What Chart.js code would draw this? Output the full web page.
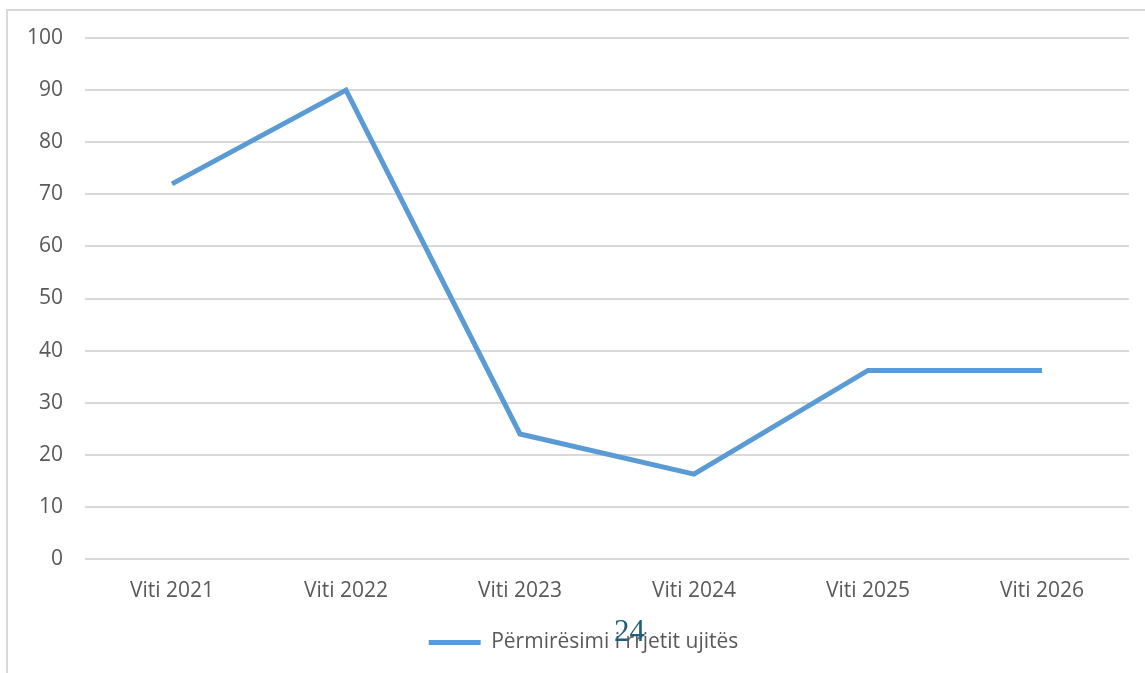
<!DOCTYPE html>
<html><head><meta charset="utf-8">
<script src="https://cdn.jsdelivr.net/npm/chart.js@4.4.1/dist/chart.umd.min.js"></script>
<style>
html,body{margin:0;padding:0;background:#fff;}
#wrap{position:relative;width:1145px;height:673px;overflow:hidden;}
#frame{position:absolute;left:6px;top:9px;width:2000px;height:2000px;border-top:2px solid #d9d9d9;border-left:2px solid #d9d9d9;}
#c{position:absolute;left:0;top:0;}
#pg{position:absolute;left:614px;top:615px;font-family:"Liberation Serif",serif;font-size:31px;color:#215E79;line-height:1;}
</style></head>
<body><div id="wrap"><div id="frame"></div><canvas id="c" width="1145" height="673"></canvas><div id="pg">24</div></div>
<script>
const categories = ["Viti 2021","Viti 2022","Viti 2023","Viti 2024","Viti 2025","Viti 2026"];
const seriesName = "Përmirësimi i rrjetit ujitës";
const seriesValues = [72, 90, 24, 16.3, 36.2, 36.2];
const yTicks = [0,10,20,30,40,50,60,70,80,90,100];
const FONT = "'Open Sans', sans-serif";
const shiftLegend = { id: 'shiftLegend', afterLayout(chart) {
  if (chart.legend) { chart.legend.left += 19; chart.legend.right += 19; }
}};
new Chart(document.getElementById('c'), {
  type: 'line',
  data: { labels: categories, datasets: [{
    label: seriesName, data: seriesValues,
    borderColor: '#5B9BD5', backgroundColor: '#5B9BD5', borderWidth: 5,
    pointRadius: 0, tension: 0, borderCapStyle: 'butt', borderJoinStyle: 'miter'
  }]},
  plugins: [shiftLegend],
  options: {
    responsive: false, animation: false, devicePixelRatio: 1,
    layout: { padding: { left: 0, right: 16, top: 38, bottom: 10 } },
    plugins: {
      tooltip: { enabled: false },
      legend: { position: 'bottom', labels: {
        usePointStyle: true, pointStyle: 'line', pointStyleWidth: 52, boxHeight: 5,
        color: '#595959', font: { family: FONT, size: 21 }, padding: 10
      }}
    },
    scales: {
      x: { offset: true, grid: { display: false }, border: { display: false },
        ticks: { color: '#595959', font: { family: FONT, size: 21 }, padding: 11 },
        afterFit: s => { s.height = 63; } },
      y: { min: 0, max: 100, afterBuildTicks: s => { s.ticks = yTicks.map(v => ({value: v})); },
        grid: { color: '#d9d9d9', lineWidth: 2, drawTicks: false }, border: { display: false },
        ticks: { color: '#595959', font: { family: FONT, size: 21 }, padding: 22 },
        afterFit: s => { s.width = 85; } }
    }
  }
});
</script></body></html>
